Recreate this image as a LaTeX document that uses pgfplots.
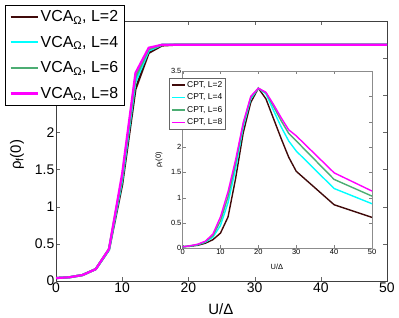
\documentclass[border=0pt]{standalone}
\usepackage{fontspec}
\setmainfont{Liberation Sans}
\usepackage{pgfplots}
\pgfplotsset{compat=1.18}
\definecolor{cA}{rgb}{0.25,0.04,0.04}
\definecolor{cB}{rgb}{0,1,1}
\definecolor{cC}{rgb}{0.30,0.68,0.45}
\definecolor{cD}{rgb}{1,0,1}
\begin{document}
\begin{tikzpicture}
\path[use as bounding box] (-56bp,-37bp) rectangle (343bp,281bp);
\begin{axis}[
  width=331bp, height=260bp, scale only axis,
  xmin=0, xmax=50, ymin=0, ymax=3.5,
  xtick={0,10,...,50}, ytick={0,0.5,...,3.5},
  tick align=inside, major tick length=4bp,
  tick style={black!60},
  axis line style={black!75, line width=0.8bp},
  /pgf/number format/assume math mode=true,
  ticklabel style={font=\fontsize{14}{16}\selectfont, inner sep=1.5bp},
  label style={font=\fontsize{15}{17}\selectfont},
  xlabel={U/Δ}, ylabel={ρ\textsubscript{f}(0)},
  xlabel style={at={(axis description cs:0.498,-0.11)}, anchor=center},
  ylabel style={at={(axis description cs:-0.118,0.485)}, anchor=center},
  legend style={at={(axis description cs:-0.154,1.0615)}, anchor=north west,
    font=\fontsize{16}{18}\selectfont, draw=black, line width=0.8bp,
    inner xsep=4bp, inner ysep=3bp, row sep=9bp,
    nodes={inner xsep=2bp, inner ysep=2bp}},
  legend cell align=left,
  legend image code/.code={\draw[#1, line width=2.2bp] (0bp,0bp) -- (27bp,0bp);},
  every axis plot/.append style={line width=2.2bp},
]
\addplot[cA] coordinates {(0,0.04)(2,0.05)(4,0.08)(6,0.16)(8,0.42)(10,1.30)(12,2.58)(14,3.07)(16,3.17)(18,3.18)(20,3.18)(30,3.18)(40,3.18)(50,3.18)};
\addlegendentry{VCA\textsubscript{Ω}, L=2}
\addplot[cB] coordinates {(0,0.04)(2,0.05)(4,0.08)(6,0.16)(8,0.42)(10,1.36)(12,2.68)(14,3.10)(16,3.18)(18,3.18)(20,3.18)(30,3.18)(40,3.18)(50,3.18)};
\addlegendentry{VCA\textsubscript{Ω}, L=4}
\addplot[cC] coordinates {(0,0.04)(2,0.05)(4,0.08)(6,0.16)(8,0.43)(10,1.40)(12,2.74)(14,3.12)(16,3.18)(18,3.18)(20,3.18)(30,3.18)(40,3.18)(50,3.18)};
\addlegendentry{VCA\textsubscript{Ω}, L=6}
\addplot[cD] coordinates {(0,0.04)(2,0.05)(4,0.08)(6,0.16)(8,0.43)(10,1.45)(12,2.80)(14,3.14)(16,3.18)(18,3.18)(20,3.18)(30,3.18)(40,3.18)(50,3.18)};
\addlegendentry{VCA\textsubscript{Ω}, L=8}
\end{axis}
\begin{axis}[
  at={(126.6bp,32.7bp)}, anchor=south west,
  width=189.4bp, height=177.3bp, scale only axis,
  axis background/.style={fill=white},
  xmin=0, xmax=50, ymin=0, ymax=3.5,
  xtick={0,10,...,50}, ytick={0,0.5,...,3.5},
  tick align=inside, major tick length=3bp,
  tick style={black!50},
  axis line style={black!45, line width=0.8bp},
  /pgf/number format/assume math mode=true,
  ticklabel style={font=\fontsize{7.5}{9}\selectfont, inner sep=1bp},
  label style={font=\fontsize{7.5}{9}\selectfont},
  xlabel={U/Δ}, ylabel={ρ\textsubscript{f}(0)},
  xlabel style={at={(axis description cs:0.498,-0.105)}, anchor=center},
  ylabel style={at={(axis description cs:-0.125,0.50)}, anchor=center},
  legend style={at={(axis description cs:-0.072,0.96)}, anchor=north west,
    font=\fontsize{8.5}{10}\selectfont, draw=black!60, line width=0.6bp,
    inner xsep=2bp, inner ysep=2bp, row sep=3bp,
    nodes={inner xsep=1.5bp, inner ysep=1bp}},
  legend cell align=left,
  legend image code/.code={\draw[#1, line width=1.4bp] (0bp,0bp) -- (13bp,0bp);},
  every axis plot/.append style={line width=1.4bp},
]
\addplot[cA] coordinates {(0,0.03)(2,0.04)(4,0.06)(6,0.10)(8,0.17)(10,0.30)(12,0.62)(14,1.38)(16,2.28)(18,2.88)(20,3.16)(22,2.95)(24,2.56)(26,2.17)(28,1.80)(30,1.52)(40,0.86)(50,0.61)};
\addlegendentry{CPT, L=2}
\addplot[cB] coordinates {(0,0.03)(2,0.045)(4,0.07)(6,0.12)(8,0.22)(10,0.45)(12,0.90)(14,1.58)(16,2.40)(18,2.95)(20,3.16)(22,3.05)(24,2.72)(26,2.40)(28,2.12)(30,1.92)(40,1.18)(50,0.88)};
\addlegendentry{CPT, L=4}
\addplot[cC] coordinates {(0,0.03)(2,0.05)(4,0.075)(6,0.13)(8,0.25)(10,0.54)(12,1.02)(14,1.68)(16,2.45)(18,2.98)(20,3.16)(22,3.07)(24,2.80)(26,2.52)(28,2.27)(30,2.12)(40,1.36)(50,1.03)};
\addlegendentry{CPT, L=6}
\addplot[cD] coordinates {(0,0.03)(2,0.05)(4,0.08)(6,0.14)(8,0.28)(10,0.62)(12,1.12)(14,1.75)(16,2.48)(18,3.00)(20,3.16)(22,3.08)(24,2.84)(26,2.58)(28,2.34)(30,2.22)(40,1.49)(50,1.13)};
\addlegendentry{CPT, L=8}
\end{axis}
\end{tikzpicture}
\end{document}
